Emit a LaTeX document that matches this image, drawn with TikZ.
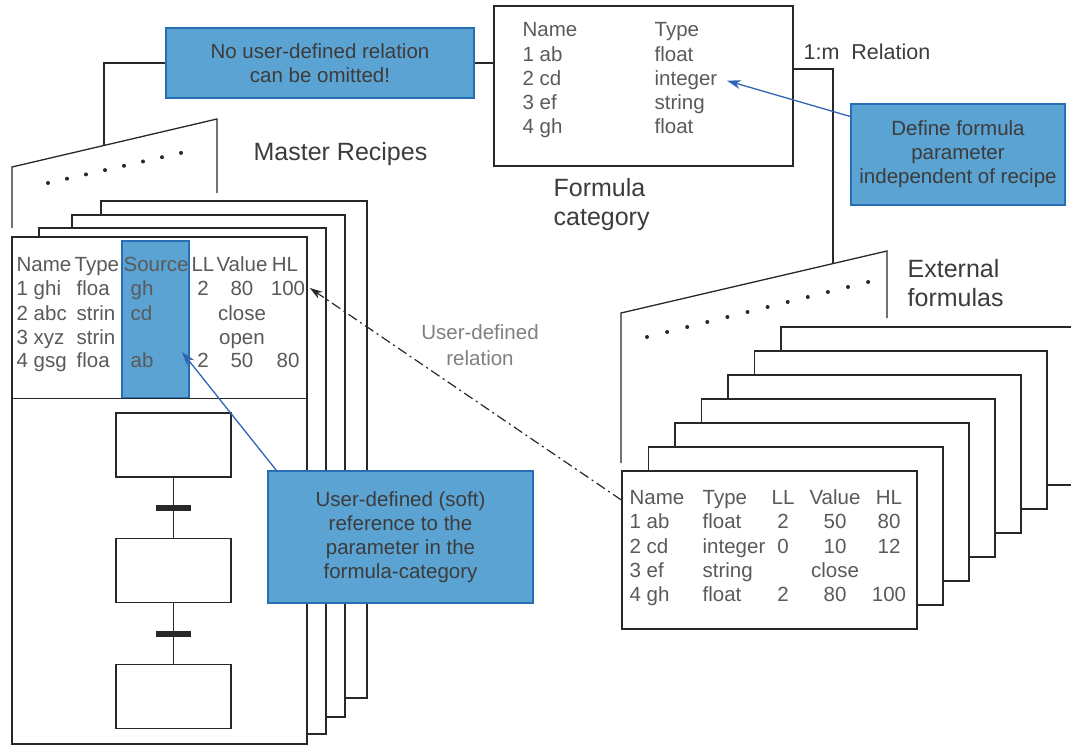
\documentclass[tikz,border=0pt]{standalone}
\usepackage{fontspec}
\setmainfont{Liberation Sans}
\usetikzlibrary{arrows.meta}
\definecolor{calloutblue}{RGB}{91,163,210}
\definecolor{calloutedge}{RGB}{40,110,180}
\definecolor{linkblue}{RGB}{50,100,180}
\definecolor{tabgray}{RGB}{90,90,90}
\definecolor{labelgray}{RGB}{60,60,60}
\definecolor{linegray}{RGB}{40,40,40}

\begin{document}
\begin{tikzpicture}[x=1pt, y=-1pt, line width=1.3pt,
  sheet/.style={draw=linegray, fill=white},
  callout/.style={draw=calloutedge, fill=calloutblue, text=labelgray, align=center, inner sep=0pt, font=\fontsize{20.5}{24}\selectfont},
  tab/.style={text=tabgray, inner sep=0pt, font=\fontsize{20.5}{24}\selectfont},
  lbl/.style={text=labelgray, align=left, inner sep=0pt, font=\fontsize{25}{29}\selectfont},
  stepbox/.style={draw=linegray, fill=white, minimum width=115pt, minimum height=64pt, inner sep=0pt},
  transbar/.style={fill=linegray, minimum width=35pt, minimum height=6pt, inner sep=0pt},
  bluelink/.style={draw=linkblue, -{Stealth[length=14pt, width=9pt]}}]
\useasboundingbox (0,0) rectangle (1071,746);

% master recipes
\draw[linegray] (12,228) -- (12,167) -- (217,119) -- (217,193);
\foreach \i in {0,...,7}
  \fill[linegray] ({48+19*\i},{183-4.3*\i}) circle[radius=2pt];
\foreach \l/\t/\r/\b in {101/201/367/698, 72/215/345/717, 39/228/326/734}
  \draw[sheet] (\l,\t) rectangle (\r,\b);
\node[sheet, minimum width=295pt, minimum height=507pt, inner sep=0pt] (mfront) at (159.5,490.5) {};
\node[draw=calloutedge, fill=calloutblue, minimum width=67pt, minimum height=157pt, inner sep=0pt] (srccol) at (155.5,319.5) {};
\draw[linegray] (mfront.west |- srccol.south) -- (mfront.east |- srccol.south);

\node[tab, anchor=base west] (mname0) at (16,271) {Name};
\node[tab, anchor=base west] (mtype0) at (74,271) {Type};
\node[tab, anchor=base west] (msrc0) at (123,271) {Source};
\node[tab, anchor=base] (mll0) at (203,271) {LL};
\node[tab, anchor=base] (mval0) at (242,271) {Value};
\node[tab, anchor=base] (mhl0) at (285,271) {HL};
\foreach \y/\n/\t/\s/\ll/\v/\h [count=\k] in {295/1 ghi/floa/gh/2/80/100, 320/2 abc/strin/cd//close/, 344/3 xyz/strin///open/, 367/4 gsg/floa/ab/2/50/80} {
  \node[tab, anchor=base west] (mname\k) at (16,\y) {\n};
  \node[tab, anchor=base west] (mtype\k) at (76,\y) {\t};
  \node[tab, anchor=base west] (msrc\k) at (130,\y) {\s};
  \node[tab, anchor=base] (mll\k) at (203,\y) {\ll};
  \node[tab, anchor=base] (mval\k) at (242,\y) {\v};
  \node[tab, anchor=base] (mhl\k) at (288,\y) {\h};
}

\node[stepbox] (step1) at (173.5,445) {};
\node[stepbox] (step2) at (173.5,570.5) {};
\node[stepbox] (step3) at (173.5,696.5) {};
\draw[linegray] (step1.south) -- (step2.north);
\draw[linegray] (step2.south) -- (step3.north);
\node[transbar] (trans1) at (173.5,508) {};
\node[transbar] (trans2) at (173.5,634) {};

\node[lbl, anchor=base west] (mlabel) at (253,161) {Master Recipes};

% external formulas
\draw[linegray] (621,463) -- (621,313) -- (887,251) -- (887,318);
\foreach \i in {0,...,11}
  \fill[linegray] ({647+20.1*\i},{337-5*\i}) circle[radius=2pt];
\foreach \i in {6,...,1}
  \draw[sheet] ({622+26.5*\i},{471-24*\i}) rectangle ({917+26*\i},{629-24*\i});
\node[sheet, minimum width=295pt, minimum height=158pt, inner sep=0pt] (efront) at (769.5,550) {};
\foreach \y/\n/\t/\ll/\v/\h [count=\k from 0] in {504/Name/Type/LL/Value/HL, 528/1 ab/float/2/50/80, 553/2 cd/integer/0/10/12, 577/3 ef/string//close/, 601/4 gh/float/2/80/100} {
  \node[tab, anchor=base west] (ename\k) at (629,\y) {\n};
  \node[tab, anchor=base west] (etype\k) at (702,\y) {\t};
  \node[tab, anchor=base] (ell\k) at (783,\y) {\ll};
  \node[tab, anchor=base] (eval\k) at (835,\y) {\v};
  \node[tab, anchor=base] (ehl\k) at (889,\y) {\h};
}
\node[lbl, anchor=west] (elabel) at (907,283) {External\\formulas};

% formula category
\node[draw=linegray, minimum width=299pt, minimum height=160pt, inner sep=0pt] (fcat) at (643.5,86) {};
\foreach \y/\n/\t [count=\k from 0] in {37/Name/Type, 62/1 ab/float, 86/2 cd/integer, 110/3 ef/string, 134/4 gh/float} {
  \node[tab, anchor=base west] (fname\k) at (522,\y) {\n};
  \node[tab, anchor=base west] (ftype\k) at (654,\y) {\t};
}
\node[lbl, anchor=west] (flabel) at (553,205) {Formula\\category};
\node[tab, text=labelgray, anchor=base west, font=\fontsize{21.5}{24}\selectfont] (rel) at (803,60) {1:m\ \ Relation};

% callouts and links
\node[callout, minimum width=308pt, minimum height=70pt] (omit) at (320,63) {No user-defined relation\\can be omitted!};
\node[callout, minimum width=214pt, minimum height=101pt] (param) at (958,154.5) {Define formula\\parameter\\independent of recipe};
\node[callout, minimum width=265pt, minimum height=132pt] (softref) at (400.5,537) {User-defined (soft)\\reference to the\\parameter in the\\formula-category};
\node[tab, text=gray, align=center, font=\fontsize{20.5}{26}\selectfont] (udrel) at (480,345) {User-defined\\relation};

\coordinate (mslant) at (104,145.5);
\coordinate (eslant) at (833,264);
\coordinate (srctip) at (182,352);
\draw[linegray] (omit.west) -| (mslant);
\draw[linegray] (omit.east) -- (omit.east -| fcat.west);
\draw[linegray] ([yshift=17pt]fcat.east) -| (eslant);
\draw[bluelink] ([yshift=38pt]param.west) -- ([xshift=9pt]ftype2.east);
\draw[bluelink] ([xshift=9pt]softref.north west) -- (srctip);
\draw[linegray, line width=1.2pt, dash pattern=on 10pt off 4pt on 2pt off 4pt, -{Stealth[length=13pt, width=8pt]}] ([yshift=50pt]efront.west) -- ([xshift=4pt]mhl1.east);
\end{tikzpicture}
\end{document}
